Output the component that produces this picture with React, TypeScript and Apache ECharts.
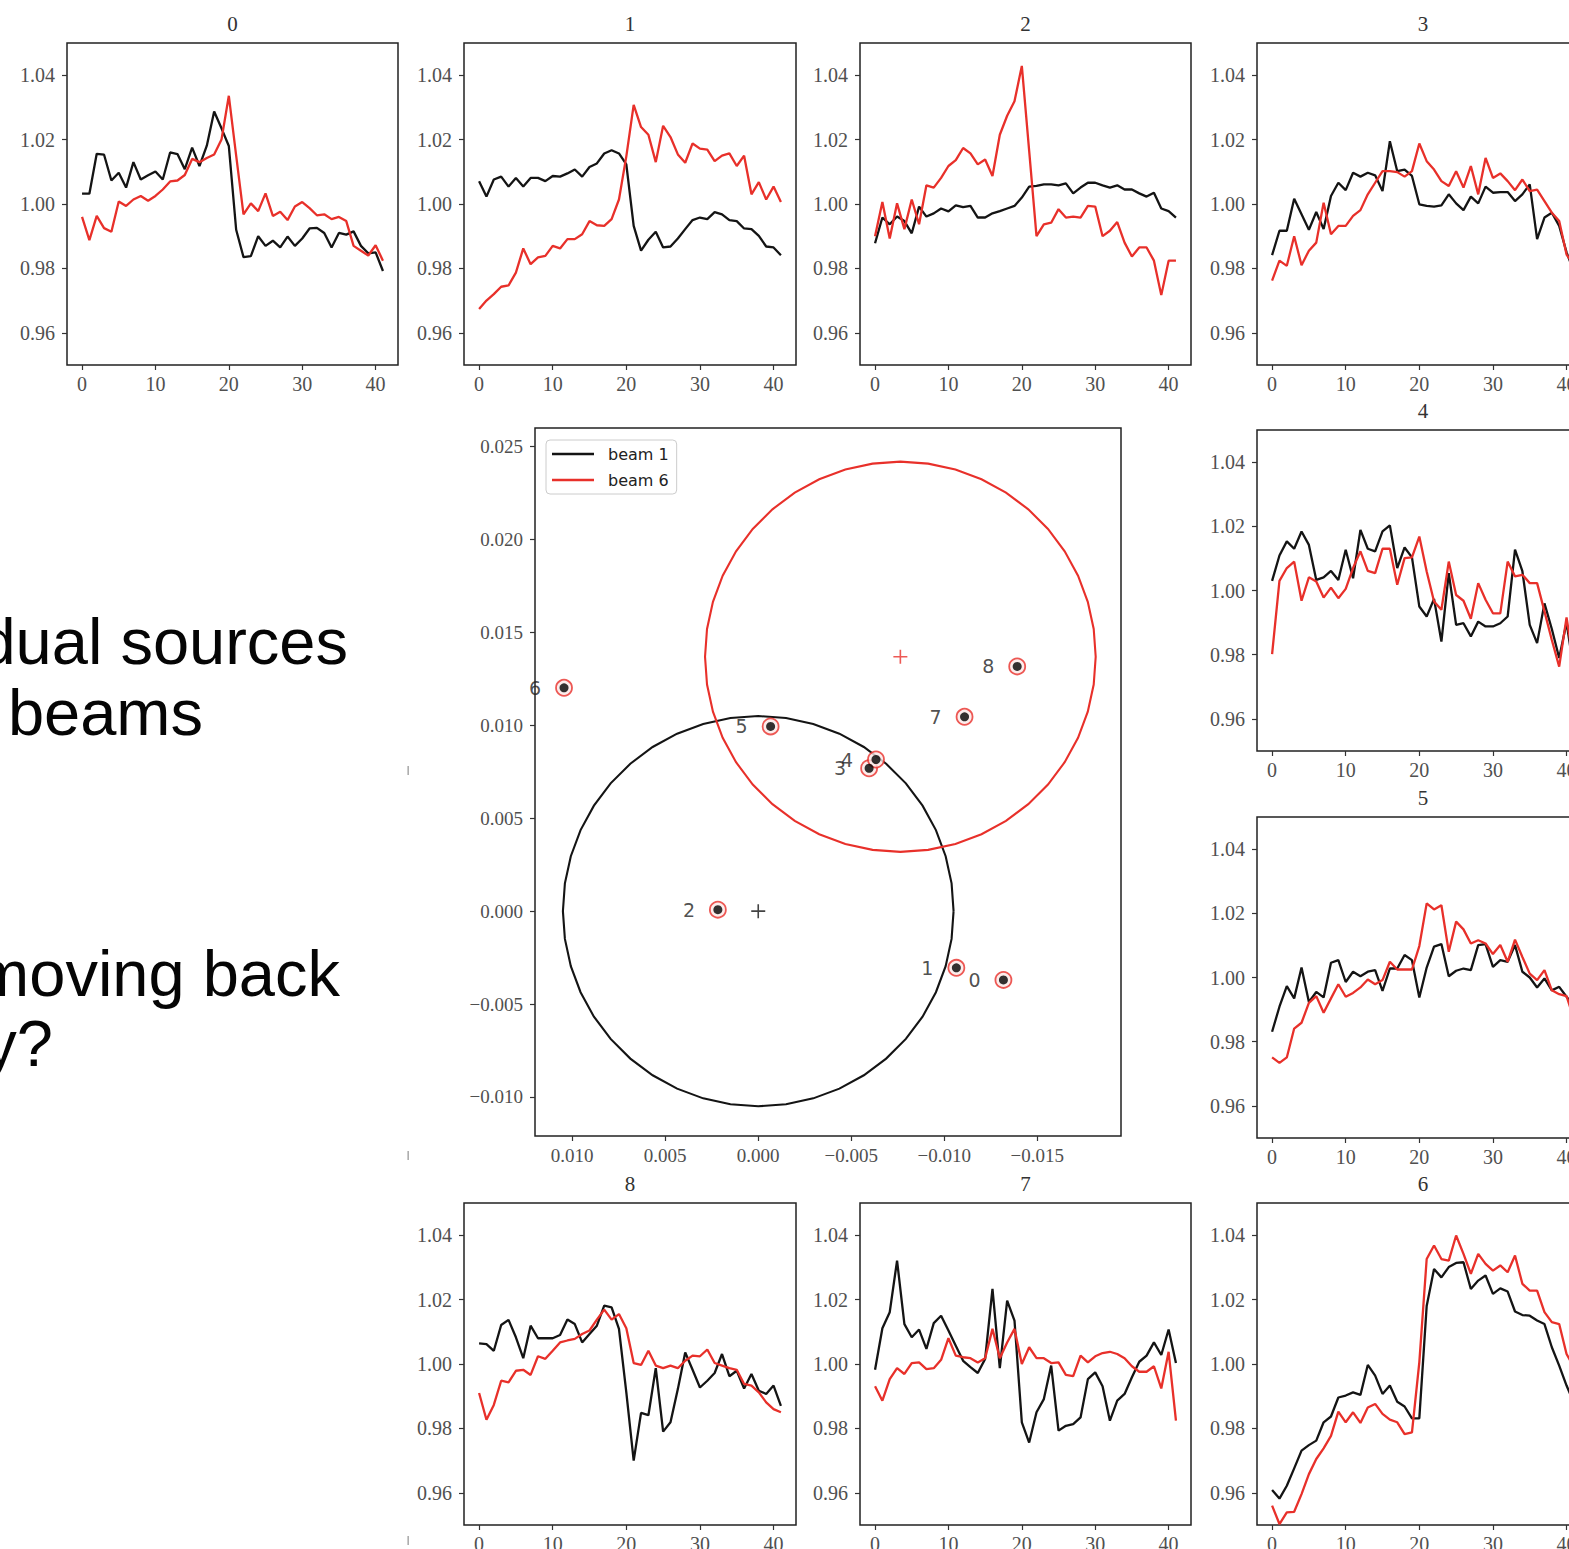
import React, { useEffect, useRef } from 'react';
import * as echarts from 'echarts';

// ---------- data ----------
const steps = [0,1,2,3,4,5,6,7,8,9,10,11,12,13,14,15,16,17,18,19,20,21,22,23,24,25,26,27,28,29,30,31,32,33,34,35,36,37,38,39,40,41];
const xTickValues = [0, 10, 20, 30, 40];
const yTickValues = [0.96, 0.98, 1.0, 1.02, 1.04];

const p0Beam1 = [1.0032,1.0032,1.0156,1.0153,1.0073,1.0097,1.0051,1.013,1.0076,1.0089,1.0101,1.0076,1.016,1.0155,1.0108,1.0175,1.0118,1.0181,1.0287,1.0235,1.018,0.992,0.9835,0.9838,0.99,0.987,0.9886,0.9865,0.9899,0.987,0.9893,0.9924,0.9926,0.991,0.9865,0.991,0.9905,0.9915,0.987,0.9847,0.985,0.9792];
const p0Beam6 = [0.996,0.9888,0.9963,0.9925,0.9914,1.0008,0.9994,1.0014,1.0025,1.001,1.0025,1.0045,1.007,1.0073,1.009,1.014,1.013,1.0143,1.0154,1.02,1.0336,1.015,0.9968,1.0002,0.9978,1.0033,0.9963,0.9976,0.995,0.9992,1.0006,0.9987,0.9965,0.9968,0.9953,0.996,0.9947,0.987,0.9855,0.984,0.9872,0.9824];
const p1Beam1 = [1.0071,1.0023,1.0076,1.0085,1.0054,1.0081,1.0054,1.0081,1.0081,1.0071,1.0087,1.0085,1.0095,1.0107,1.0085,1.0115,1.0126,1.0157,1.0167,1.0157,1.0123,0.9932,0.9855,0.9889,0.9914,0.9865,0.9868,0.9893,0.9922,0.995,0.9958,0.9953,0.9975,0.9968,0.995,0.9947,0.9924,0.9922,0.9901,0.9868,0.9865,0.9841];
const p1Beam6 = [0.9674,0.97,0.972,0.9743,0.9747,0.9787,0.9862,0.9813,0.9834,0.9839,0.987,0.9862,0.9891,0.9891,0.9906,0.9947,0.9934,0.9932,0.9953,1.0014,1.0148,1.0308,1.0239,1.0215,1.013,1.0243,1.0208,1.0154,1.0128,1.0188,1.0172,1.0169,1.0133,1.015,1.0157,1.0118,1.015,1.003,1.0068,1.0014,1.0054,1.0006];
const p2Beam1 = [0.9878,0.9958,0.9937,0.9961,0.9947,0.9909,0.9992,0.9961,0.9971,0.9986,0.9977,0.9996,0.999,0.9994,0.9958,0.9958,0.9971,0.9978,0.9986,0.9994,1.002,1.0054,1.0056,1.0061,1.0061,1.0058,1.0064,1.0033,1.0051,1.0066,1.0066,1.0058,1.0051,1.0058,1.0045,1.0045,1.0033,1.0023,1.0035,0.9986,0.9978,0.9958];
const p2Beam6 = [0.99,1.0006,0.9893,1.0002,0.9922,1.0014,0.9937,1.0058,1.0051,1.0081,1.0118,1.0136,1.0174,1.0157,1.0123,1.0138,1.0087,1.0215,1.0274,1.0319,1.0429,1.0165,0.99,0.9937,0.9942,0.9984,0.9958,0.9961,0.9958,0.9994,0.9992,0.99,0.9917,0.9944,0.988,0.9837,0.9865,0.9865,0.9824,0.9717,0.9824,0.9824];
const p3Beam1 = [0.9841,0.9917,0.9917,1.0016,0.9968,0.992,0.9975,0.9922,1.0025,1.0066,1.0043,1.0097,1.0085,1.0097,1.0089,1.004,1.0195,1.0102,1.0107,1.0087,0.9999,0.9994,0.9992,0.9996,1.003,1.0002,0.9981,1.0023,1.0002,1.0054,1.0035,1.0037,1.0037,1.0009,1.003,1.0061,0.9891,0.9958,0.9973,0.9932,0.985,0.979];
const p3Beam6 = [0.9762,0.9824,0.9808,0.99,0.981,0.9855,0.988,1.0004,0.9906,0.9932,0.9932,0.9963,0.9981,1.003,1.0066,1.0102,1.0102,1.0099,1.0085,1.0102,1.0188,1.0133,1.0107,1.0071,1.0056,1.0102,1.0051,1.0118,1.003,1.0143,1.0081,1.0095,1.0071,1.0043,1.0076,1.004,1.0045,1.0009,0.9973,0.9947,0.9843,0.981];
const p4Beam1 = [1.003,1.0109,1.0153,1.013,1.0184,1.0142,1.0033,1.0041,1.0061,1.0033,1.0127,1.0038,1.0189,1.013,1.0122,1.0184,1.0203,1.007,1.0134,1.0103,0.995,0.9919,0.9974,0.9841,1.0054,0.9893,0.9898,0.9857,0.9903,0.9888,0.9888,0.9898,0.9919,1.0127,1.006,0.9893,0.9836,0.996,0.988,0.979,0.99,0.975];
const p4Beam6 = [0.9802,1.003,1.007,1.009,0.9968,1.0041,1.0028,0.9978,1.0009,0.9976,1.0005,1.007,1.0122,1.0061,1.0054,1.013,1.013,1.0018,1.0101,1.0103,1.0168,1.0059,0.9966,0.994,1.009,0.9986,0.9968,0.9912,1.0023,0.9971,0.9929,0.9929,1.009,1.0044,1.0049,1.0023,1.0023,0.9935,0.9846,0.9763,0.9916,0.9768];
const p5Beam1 = [0.9831,0.9909,0.9973,0.9935,1.0031,0.9924,0.9955,0.9938,1.0046,1.0054,0.9986,1.0018,1.0004,1.0018,1.0023,0.9958,1.0028,1.0028,1.007,1.0054,0.9938,1.0031,1.0096,1.0104,1.0004,1.0021,1.0028,1.0023,1.0101,1.0104,1.0033,1.0054,1.0049,1.0101,1.0018,1.0,0.9969,0.9997,0.996,0.9971,0.994,0.991];
const p5Beam6 = [0.9751,0.9734,0.9751,0.9841,0.9859,0.9921,0.9942,0.989,0.9935,0.9979,0.994,0.9952,0.9969,0.9994,0.9979,0.9992,1.0049,1.0025,1.0025,1.0025,1.0098,1.0231,1.0212,1.0225,1.008,1.0174,1.015,1.0106,1.0116,1.0106,1.0073,1.0101,1.0049,1.0118,1.0064,1.0012,0.9992,1.0023,0.996,0.9948,0.9942,0.987];
const p6Beam1 = [0.9609,0.9582,0.9622,0.9676,0.9731,0.9748,0.9762,0.9819,0.9837,0.9896,0.9902,0.9912,0.9904,0.9997,0.9964,0.9907,0.9933,0.9883,0.9868,0.9831,0.9831,1.018,1.0295,1.0269,1.0301,1.0314,1.0316,1.0233,1.0259,1.0275,1.0218,1.0235,1.0225,1.0163,1.0152,1.015,1.0135,1.0124,1.0052,0.9995,0.9933,0.988];
const p6Beam6 = [0.956,0.9503,0.9539,0.9541,0.9596,0.9658,0.9705,0.9738,0.9777,0.9852,0.9819,0.985,0.9817,0.9865,0.9876,0.9845,0.9827,0.9819,0.9782,0.9788,1.0005,1.0326,1.0368,1.0326,1.0321,1.0399,1.0342,1.028,1.0342,1.0311,1.029,1.0306,1.0285,1.0337,1.0249,1.0228,1.0228,1.0161,1.013,1.0124,1.0031,0.999];
const p8Beam1 = [1.0064,1.0062,1.0041,1.0121,1.0137,1.0083,1.0018,1.0119,1.008,1.008,1.008,1.009,1.0138,1.0124,1.0067,1.0093,1.0119,1.0181,1.0176,1.0109,0.9912,0.97,0.9848,0.9841,0.9987,0.979,0.9819,0.9922,1.0036,0.9982,0.9927,0.9948,0.9972,1.0031,0.9962,0.9979,0.9924,0.9969,0.9917,0.9907,0.9933,0.987];
const p8Beam6 = [0.991,0.9827,0.9873,0.9948,0.9943,0.9979,0.9982,0.9966,1.0024,1.0016,1.0041,1.0067,1.0073,1.0078,1.0093,1.0104,1.0138,1.0169,1.0138,1.0155,1.0111,1.0003,0.9997,1.0041,0.9995,0.9987,0.9995,0.9987,1.001,1.0026,1.0024,1.0045,1.0003,0.9995,0.9987,0.9982,0.9938,0.9933,0.9912,0.9881,0.986,0.985];
const p7Beam1 = [0.9982,1.0111,1.0161,1.0321,1.0124,1.0083,1.0107,1.0047,1.0127,1.015,1.0104,1.0057,1.001,0.999,0.9972,1.0016,1.0233,0.9987,1.0197,1.0135,0.9819,0.9756,0.985,0.9891,0.9995,0.9793,0.9808,0.9813,0.9834,0.9953,0.9974,0.9931,0.9824,0.9886,0.9907,0.9959,1.0007,1.0026,1.0067,1.0028,1.0107,1.0003];
const p7Beam6 = [0.9931,0.9886,0.9953,0.9987,0.9969,1.0003,1.0005,0.9984,0.9987,1.0013,1.008,1.0026,1.0021,1.0018,1.0005,1.0018,1.0109,1.0018,1.0067,1.0109,1.0,1.0052,1.0018,1.0018,1.0003,1.0005,0.9966,0.9962,1.0026,1.0005,1.0024,1.0034,1.0038,1.0031,1.0018,0.9993,0.9976,0.9976,0.9993,0.9924,1.0038,0.9824];

const panelTitles = ['0', '1', '2', '3', '4', '5', '6', '8', '7'];
const panelBeam1 = [p0Beam1, p1Beam1, p2Beam1, p3Beam1, p4Beam1, p5Beam1, p6Beam1, p8Beam1, p7Beam1];
const panelBeam6 = [p0Beam6, p1Beam6, p2Beam6, p3Beam6, p4Beam6, p5Beam6, p6Beam6, p8Beam6, p7Beam6];

// sources in the central map
const sourceIds = ['0', '1', '2', '3', '4', '5', '6', '7', '8'];
const sourceX = [-0.01318, -0.01065, 0.00217, -0.00596, -0.00633, -0.000665, 0.01044, -0.01109, -0.01392];
const sourceY = [-0.0037, -0.00305, 0.00008, 0.00769, 0.00816, 0.00994, 0.01202, 0.01046, 0.01317];
const beamNames = ['beam 1', 'beam 6'];
const beamCenterX = [0.0, -0.00764];
const beamCenterY = [0.0, 0.01369];
const beamRadius = [0.0105, 0.0105];
const mapXTicks = [0.01, 0.005, 0.0, -0.005, -0.01, -0.015];
const mapYTicks = [-0.01, -0.005, 0.0, 0.005, 0.01, 0.015, 0.02, 0.025];

const slideLines = ['dual sources', 'beams', 'moving back', 'y?'];

// ---------- layout / style ----------
const W = 1569;
const H = 1549;
const BLACK = '#141414';
const RED = '#e8302a';
const SERIF = "'Liberation Serif', 'Times New Roman', serif";
const SANS = "'DejaVu Sans', sans-serif";
const LINE_W = 2.3;
const panelBoxes = [
  { l: 67, t: 43, w: 331, h: 322 },
  { l: 464, t: 43, w: 332, h: 322 },
  { l: 860, t: 43, w: 331, h: 322 },
  { l: 1257, t: 43, w: 332, h: 322 },
  { l: 1257, t: 430, w: 332, h: 321 },
  { l: 1257, t: 817, w: 332, h: 321 },
  { l: 1257, t: 1203, w: 332, h: 322 },
  { l: 464, t: 1203, w: 332, h: 322 },
  { l: 860, t: 1203, w: 331, h: 322 },
];
const mapBox = { l: 535, t: 428, w: 586, h: 708 };
const slideTextPos = [
  { x: 348, y: 641 },
  { x: 203, y: 712 },
  { x: 340, y: 973 },
  { x: 53, y: 1043 },
];

function buildOption() {
  const grid: any[] = [];
  const xAxis: any[] = [];
  const yAxis: any[] = [];
  const series: any[] = [];
  const graphic: any[] = [];

  panelBoxes.forEach((b, i) => {
    grid.push({
      left: b.l, top: b.t, width: b.w, height: b.h,
      show: true, borderColor: '#222', borderWidth: 1.5, backgroundColor: 'transparent',
      containLabel: false, outerBoundsMode: 'none',
    });
    xAxis.push({
      type: 'value', gridIndex: i, min: -2.05, max: 43.05,
      splitLine: { show: false },
      axisLine: { show: false, onZero: false },
      axisTick: { show: true, length: 5, customValues: xTickValues, lineStyle: { color: '#333', width: 1.2 } },
      axisLabel: { customValues: xTickValues, fontFamily: SERIF, fontSize: 20, color: '#505050', margin: 9 },
    });
    yAxis.push({
      type: 'value', gridIndex: i, min: 0.95, max: 1.05,
      splitLine: { show: false },
      axisLine: { show: false, onZero: false },
      axisTick: { show: true, length: 5, customValues: yTickValues, lineStyle: { color: '#333', width: 1.2 } },
      axisLabel: {
        customValues: yTickValues, fontFamily: SERIF, fontSize: 20, color: '#505050', margin: 12,
        formatter: (v: number) => v.toFixed(2),
      },
    });
    series.push({
      type: 'line', name: 'beam 1', xAxisIndex: i, yAxisIndex: i,
      data: panelBeam1[i].map((v, k) => [steps[k], v]),
      showSymbol: false, symbol: 'none', silent: true,
      lineStyle: { color: BLACK, width: LINE_W }, itemStyle: { color: BLACK }, z: 2,
    });
    series.push({
      type: 'line', name: 'beam 6', xAxisIndex: i, yAxisIndex: i,
      data: panelBeam6[i].map((v, k) => [steps[k], v]),
      showSymbol: false, symbol: 'none', silent: true,
      lineStyle: { color: RED, width: LINE_W }, itemStyle: { color: RED }, z: 3,
    });
    graphic.push({
      type: 'text', x: b.l + b.w / 2, y: b.t - 19,
      style: {
        text: panelTitles[i], fontFamily: SERIF, fontSize: 21, fill: '#333',
        textAlign: 'center', textVerticalAlign: 'middle', align: 'center', verticalAlign: 'middle',
      },
    });
  });

  // central map
  const mi = panelBoxes.length;
  grid.push({
    left: mapBox.l, top: mapBox.t, width: mapBox.w, height: mapBox.h,
    show: true, borderColor: '#222', borderWidth: 1.5, backgroundColor: 'transparent',
    containLabel: false, outerBoundsMode: 'none',
  });
  const mapFmt = (v: number) => (v < -1e-9 ? '\u2212' : '') + Math.abs(v).toFixed(3);
  xAxis.push({
    type: 'value', gridIndex: mi, min: -0.0195, max: 0.012, inverse: true,
    splitLine: { show: false },
    axisLine: { show: false, onZero: false },
    axisTick: { show: true, length: 5, customValues: mapXTicks, lineStyle: { color: '#333', width: 1.2 } },
    axisLabel: { customValues: mapXTicks, fontFamily: SERIF, fontSize: 19, color: '#505050', margin: 10, formatter: mapFmt },
  });
  yAxis.push({
    type: 'value', gridIndex: mi, min: -0.0121, max: 0.026,
    splitLine: { show: false },
    axisLine: { show: false, onZero: false },
    axisTick: { show: true, length: 5, customValues: mapYTicks, lineStyle: { color: '#333', width: 1.2 } },
    axisLabel: { customValues: mapYTicks, fontFamily: SERIF, fontSize: 19, color: '#505050', margin: 12, formatter: mapFmt },
  });

  const beamColors = [BLACK, RED];
  beamNames.forEach((name, bi) => {
    series.push({
      type: 'custom', name, xAxisIndex: mi, yAxisIndex: mi, silent: true,
      itemStyle: { color: beamColors[bi] },
      data: [[beamCenterX[bi], beamCenterY[bi], beamRadius[bi]]],
      encode: { x: 0, y: 1 },
      z: 3,
      renderItem: (params: any, api: any) => {
        const cx = api.value(0), cy = api.value(1), r = api.value(2);
        const pts: number[][] = [];
        const N = 44;
        for (let k = 0; k <= N; k++) {
          const t = Math.PI + (2 * Math.PI * k) / N;
          pts.push(api.coord([cx + r * Math.cos(t), cy + r * Math.sin(t)]));
        }
        return {
          type: 'polyline',
          shape: { points: pts },
          style: { stroke: beamColors[bi], fill: null, lineWidth: 2.1 },
        };
      },
    });
  });

  const crossPath = 'path://M6.2,0h1.6v6.2h6.2v1.6h-6.2v6.2h-1.6v-6.2h-6.2v-1.6h6.2z';
  beamNames.forEach((name, bi) => {
    series.push({
      type: 'scatter', name: name + ' centre', xAxisIndex: mi, yAxisIndex: mi, silent: true,
      symbol: crossPath, symbolSize: 14,
      itemStyle: { color: beamColors[bi] },
      data: [[beamCenterX[bi], beamCenterY[bi]]], z: 4,
    });
  });

  const srcData = sourceIds.map((id, k) => [sourceX[k], sourceY[k], id]);
  series.push({
    type: 'scatter', name: 'source ring', xAxisIndex: mi, yAxisIndex: mi, silent: true,
    symbol: 'circle', symbolSize: 16,
    itemStyle: { color: '#fbe9e7', borderColor: RED, borderWidth: 1.8 },
    data: srcData, z: 5,
    label: {
      show: true, position: 'left', distance: 14,
      formatter: (p: any) => p.data[2],
      fontFamily: SANS, fontSize: 19, color: '#222',
    },
  });
  series.push({
    type: 'scatter', name: 'source dot', xAxisIndex: mi, yAxisIndex: mi, silent: true,
    symbol: 'circle', symbolSize: 9,
    itemStyle: { color: '#000000' },
    data: srcData, z: 6,
  });

  // slide text
  slideLines.forEach((t, k) => {
    graphic.push({
      type: 'text', x: slideTextPos[k].x, y: slideTextPos[k].y,
      style: {
        text: t, fontFamily: "'Liberation Sans', Arial, sans-serif", fontSize: 65, fill: '#050505',
        textAlign: 'right', textVerticalAlign: 'middle', align: 'right', verticalAlign: 'middle',
      },
    });
  });
  // tiny leftover marks of the slide
  [766, 1151, 1536].forEach((yy) => {
    graphic.push({ type: 'rect', shape: { x: 407.5, y: yy, width: 1.3, height: 9 }, style: { fill: '#9a9a9a' } });
  });

  return {
    animation: false,
    backgroundColor: '#ffffff',
    tooltip: { show: false },
    legend: {
      show: true,
      data: beamNames.map((n) => ({ name: n, icon: 'rect' })),
      orient: 'vertical',
      left: 546, top: 440,
      itemWidth: 42, itemHeight: 2.5, itemGap: 10,
      padding: [6, 8, 6, 6],
      backgroundColor: 'rgba(255,255,255,0.85)',
      borderColor: '#cccccc', borderWidth: 1, borderRadius: 4,
      selectedMode: false,
      textStyle: { fontFamily: SANS, fontSize: 16, color: '#222', padding: [0, 0, 0, 9] },
    },
    grid, xAxis, yAxis, series, graphic,
  };
}

export default function App() {
  const ref = useRef<HTMLDivElement>(null);
  useEffect(() => {
    if (!ref.current) return;
    const chart = echarts.init(ref.current, undefined, { renderer: 'svg', width: W, height: H });
    chart.setOption(buildOption() as any);
    return () => chart.dispose();
  }, []);
  return (
    <div
      ref={ref}
      style={{ position: 'absolute', left: 0, top: 0, width: W, height: H, overflow: 'hidden', background: '#fff' }}
    />
  );
}
